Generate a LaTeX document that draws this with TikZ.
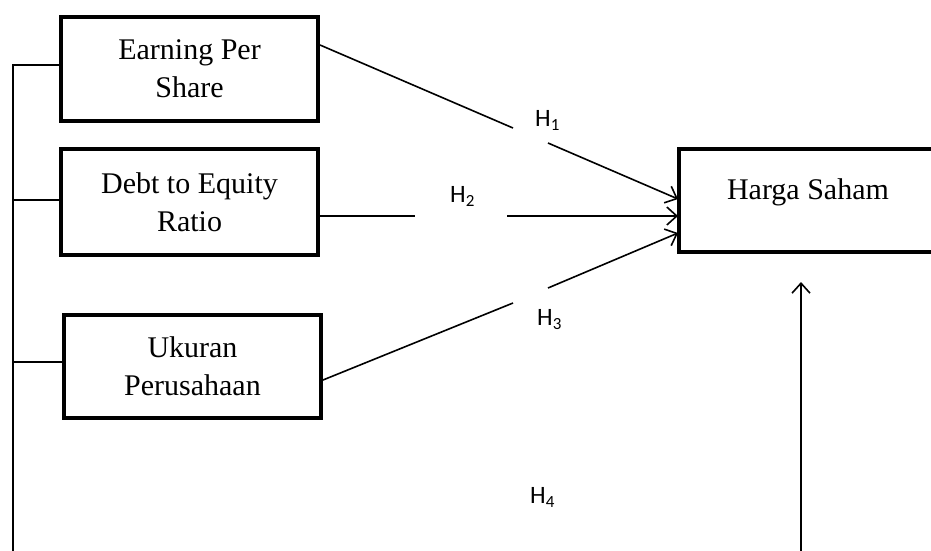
\documentclass[tikz,border=0pt]{standalone}
\usepackage{fontspec}
\setmainfont{Liberation Serif}
\newfontfamily\hfont{Carlito}
\usetikzlibrary{arrows.meta}
\tikzset{
  varbox/.style={draw, line width=4pt, align=center, inner sep=0pt,
    font=\fontsize{30}{38}\selectfont},
  conn/.style={line width=1.6pt},
  arr/.style={line width=1.6pt, -{Straight Barb[length=10pt,width=18pt,line width=1.6pt]}},
  hlabel/.style={anchor=base west, inner sep=0pt, font=\hfont\fontsize{25}{25}\selectfont}
}
\newcommand{\hyp}[1]{H\raisebox{-4pt}{\fontsize{17}{17}\selectfont #1}}
\begin{document}
\begin{tikzpicture}[x=1pt,y=-1pt]
\clip (0,0) rectangle (931,550);
\fill[white] (0,0) rectangle (931,550);
% boxes
\node[varbox, minimum width=257pt, minimum height=104pt] (eps) at (189.5,69) {Earning Per\\Share};
\node[varbox, minimum width=257pt, minimum height=106pt] (der) at (189.5,202) {Debt to Equity\\Ratio};
\node[varbox, minimum width=257pt, minimum height=103pt] (up) at (192.5,366.5) {Ukuran\\Perusahaan};
\node[varbox, minimum width=259pt, minimum height=103pt, anchor=west] (hs) at (677,200.5) {};
\node[font=\fontsize{30}{38}\selectfont, anchor=base] (hst) at (808,199) {Harga Saham};
% gap coordinates
\coordinate (g1a) at (513,128);
\coordinate (g1b) at (548,143);
\coordinate (g2a) at (415,216);
\coordinate (g2b) at (507,216);
\coordinate (g3a) at (513,303);
\coordinate (g3b) at (548,288);
\coordinate (t1) at (678,199);
\coordinate (t2) at (678,216);
\coordinate (t3) at (678,233);
\coordinate (vb) at (801,552);
\coordinate (vt) at (801,282);
\coordinate (lt) at (13,65);
\coordinate (lb) at (13,552);
% arrows
\draw[conn] ([yshift=24pt]eps.east) -- (g1a);
\draw[arr] (g1b) -- (t1);
\draw[conn] ([yshift=-14pt]der.east) -- (g2a);
\draw[arr] (g2b) -- (t2);
\draw[conn] ([yshift=-13.5pt]up.east) -- (g3a);
\draw[arr] (g3b) -- (t3);
\draw[arr] (vb) -- (vt);
% left bracket
\draw[conn] (lb) -- (lt) -- (lt -| eps.west);
\draw[conn] (13,200) -- (der.west |- 13,200);
\draw[conn] (13,362) -- (up.west |- 13,362);
% labels
\node[hlabel] (h1) at (535,126) {\hyp{1}};
\node[hlabel] (h2) at (450,202) {\hyp{2}};
\node[hlabel] (h3) at (537,325) {\hyp{3}};
\node[hlabel] (h4) at (530,503) {\hyp{4}};
\end{tikzpicture}
\end{document}
